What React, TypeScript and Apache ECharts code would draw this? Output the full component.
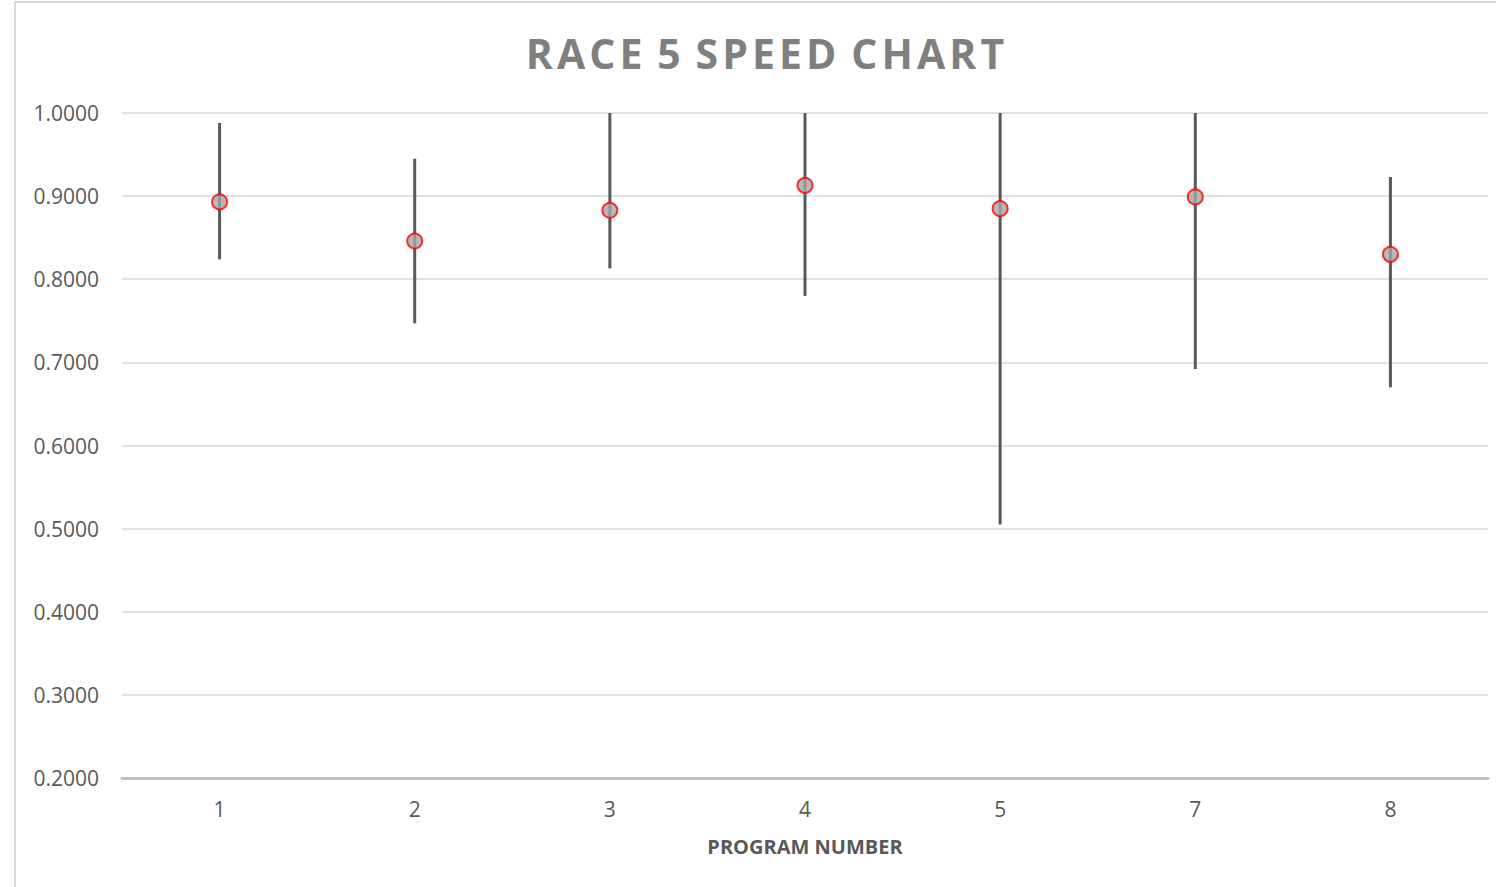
import React, { useEffect, useRef } from "react";
import * as echarts from "echarts";

const programNumbers = ["1", "2", "3", "4", "5", "7", "8"];
const speedValues = [0.893, 0.846, 0.883, 0.913, 0.885, 0.899, 0.830];
const rangeHigh = [0.988, 0.945, 1.0, 1.0, 1.0, 1.0, 0.923];
const rangeLow = [0.824, 0.747, 0.813, 0.780, 0.505, 0.692, 0.670];
const yTicks = [0.2, 0.3, 0.4, 0.5, 0.6, 0.7, 0.8, 0.9, 1.0];
const titleWords = ["RACE", "5", "SPEED", "CHART"];

const Y_MIN = 0.2;
const Y_MAX = 1.0;

export default function App() {
  const ref = useRef<HTMLDivElement>(null);
  useEffect(() => {
    document.body.style.margin = "0";
    if (!ref.current) return;
    const chart = echarts.init(ref.current, undefined, { renderer: "svg" });
    const errData = programNumbers.map((_, i) => [i, rangeLow[i], rangeHigh[i]]);
    const titleText = titleWords.map((w) => w.split("").join("\u200A")).join(" \u200A");
    chart.setOption({
      animation: false,
      backgroundColor: "#ffffff",
      graphic: [
        {
          type: "rect",
          shape: { x: 15, y: 2, width: 1600, height: 1000 },
          style: { fill: "none", stroke: "#d9d9d9", lineWidth: 2 },
          silent: true,
          z: -10,
        },
        {
          type: "text",
          x: 765,
          y: 53,
          style: {
            text: titleText,
            fill: "#7f7f7f",
            font: "bold 41px 'Open Sans'",
            textAlign: "center",
            textVerticalAlign: "middle",
          },
        },
      ],
      grid: { left: 122, right: 8, top: 113, bottom: 109 },
      xAxis: {
        type: "category",
        data: programNumbers,
        name: "PROGRAM NUMBER",
        nameLocation: "middle",
        nameGap: 58,
        nameTextStyle: { color: "#595959", fontSize: 20, fontWeight: "bold", fontFamily: "'Open Sans'" },
        axisLine: { lineStyle: { color: "#bfbfbf", width: 3 } },
        axisTick: { show: false },
        axisLabel: { color: "#595959", fontSize: 21, margin: 20, fontFamily: "'Open Sans'" },
      },
      yAxis: {
        type: "value",
        min: Y_MIN,
        max: Y_MAX,
        interval: 0.1,
        axisLine: { show: false },
        axisTick: { show: false },
        splitLine: { lineStyle: { color: "#d9d9d9", width: 1.5 } },
        axisLabel: {
          color: "#595959",
          fontSize: 21,
          margin: 23,
          fontFamily: "'Open Sans'",
          formatter: (v: number) => {
            const t = yTicks.find((x) => Math.abs(x - v) < 1e-6);
            return (t ?? v).toFixed(4);
          },
        },
      },
      series: [
        {
          type: "custom",
          data: errData,
          encode: { x: 0, y: [1, 2] },
          z: 2,
          renderItem: (params: any, api: any) => {
            const idx = api.value(0);
            const lo = Math.max(api.value(1), Y_MIN);
            const hi = Math.min(api.value(2), Y_MAX);
            const p1 = api.coord([idx, lo]);
            const p2 = api.coord([idx, hi]);
            return {
              type: "line",
              shape: { x1: p1[0], y1: p1[1], x2: p2[0], y2: p2[1] },
              style: { stroke: "#595959", lineWidth: 3 },
            };
          },
        },
        {
          type: "scatter",
          data: speedValues,
          symbol: "circle",
          symbolSize: 15,
          z: 5,
          itemStyle: { color: "#a5a5a5", borderColor: "#ff0000", borderWidth: 2 },
        },
      ],
    });
    return () => chart.dispose();
  }, []);
  return <div ref={ref} style={{ width: 1496, height: 887 }} />;
}
